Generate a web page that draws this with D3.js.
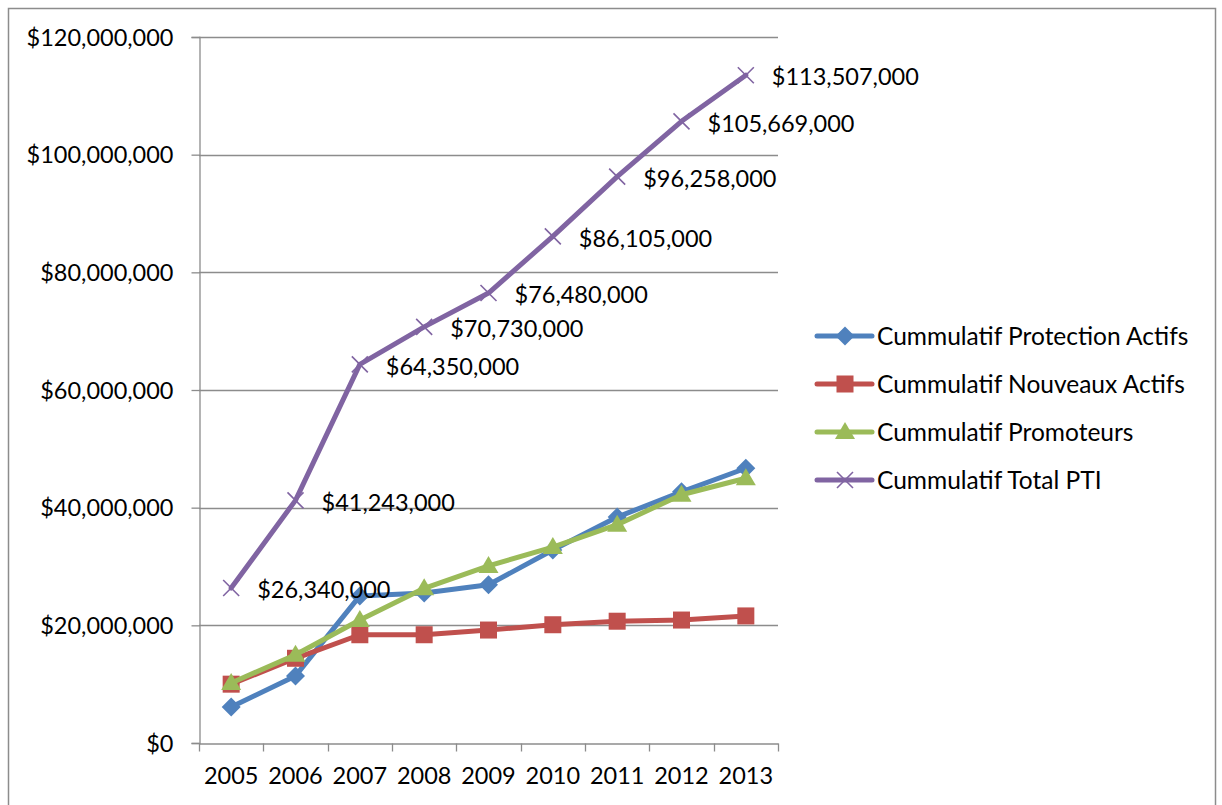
<!DOCTYPE html>
<html>
<head>
<meta charset="utf-8">
<script src="https://cdn.jsdelivr.net/npm/d3@7"></script>
<style>
  html, body { margin: 0; padding: 0; background: #fff; }
  svg { display: block; }
  text { font-family: Lato, "Open Sans", sans-serif; fill: #000; }
</style>
</head>
<body>
<svg id="chart" width="1222" height="805"></svg>
<script>
// Years on the category axis
const years = ["2005", "2006", "2007", "2008", "2009", "2010", "2011", "2012", "2013"];

// Cumulative amounts per series ($)
const protectionActifs = [6100000, 11400000, 25000000, 25500000, 26900000, 32800000, 38400000, 42700000, 46700000];
const nouveauxActifs   = [10000000, 14400000, 18400000, 18400000, 19200000, 20100000, 20700000, 20900000, 21600000];
const promoteurs       = [10200000, 15000000, 20900000, 26300000, 30100000, 33300000, 37100000, 42200000, 45000000];
const totalPTI         = [26340000, 41243000, 64350000, 70730000, 76480000, 86105000, 96258000, 105669000, 113507000];

const seriesNames = ["Cummulatif Protection Actifs", "Cummulatif Nouveaux Actifs", "Cummulatif Promoteurs", "Cummulatif Total PTI"];
const yTicks = [0, 20000000, 40000000, 60000000, 80000000, 100000000, 120000000];

const series = [
  { name: seriesNames[0], values: protectionActifs, color: "#4F81BD", marker: "diamond" },
  { name: seriesNames[1], values: nouveauxActifs,   color: "#C0504D", marker: "square" },
  { name: seriesNames[2], values: promoteurs,       color: "#9BBB59", marker: "triangle" },
  { name: seriesNames[3], values: totalPTI,         color: "#8064A2", marker: "x", labels: true }
];

const FONT = 23.5;
const svg = d3.select("#chart");
const plot = { left: 199, right: 778, top: 37, bottom: 743 };

// Outer chart frame
svg.append("rect")
  .attr("x", 8.5).attr("y", 8.5)
  .attr("width", 1207).attr("height", 820)
  .attr("fill", "none").attr("stroke", "#8c8c8c").attr("stroke-width", 1.5);

const x = d3.scaleBand().domain(years).range([plot.left, plot.right]).padding(0);
const y = d3.scaleLinear().domain([0, 120000000]).range([plot.bottom, plot.top]);

const fmt = v => "$" + d3.format(",")(v);

// Horizontal gridlines
svg.append("g")
  .selectAll("line")
  .data(yTicks.filter(d => d > 0))
  .join("line")
  .attr("x1", plot.left).attr("x2", plot.right)
  .attr("y1", d => Math.round(y(d)) + 0.5).attr("y2", d => Math.round(y(d)) + 0.5)
  .attr("stroke", "#8c8c8c").attr("stroke-width", 1.3);

// Y axis
const yAxis = svg.append("g")
  .attr("transform", `translate(${plot.left + 0.5},0)`)
  .call(d3.axisLeft(y).tickValues(yTicks).tickFormat(fmt).tickSize(8).tickPadding(18));
yAxis.select(".domain").attr("stroke", "#8c8c8c").attr("stroke-width", 1.3);
yAxis.selectAll(".tick line").attr("stroke", "#8c8c8c").attr("stroke-width", 1.3);
yAxis.selectAll(".tick text").attr("font-size", FONT).attr("font-family", "Lato, sans-serif").attr("fill", "#000").attr("dy", "0.34em");

// X axis with ticks at category boundaries
const xAxis = svg.append("g")
  .attr("transform", `translate(0,${plot.bottom + 0.5})`)
  .call(d3.axisBottom(x).tickSize(0).tickPadding(31));
xAxis.select(".domain").attr("stroke", "#8c8c8c").attr("stroke-width", 1.3);
xAxis.selectAll(".tick text").attr("font-size", FONT).attr("font-family", "Lato, sans-serif").attr("fill", "#000").attr("dy", "0.42em");
const bounds = years.map(d => x(d)).concat([x(years[years.length - 1]) + x.bandwidth()]);
xAxis.append("g").selectAll("line")
  .data(bounds)
  .join("line")
  .attr("x1", d => Math.round(d) + 0.5).attr("x2", d => Math.round(d) + 0.5)
  .attr("y1", 0).attr("y2", 8)
  .attr("stroke", "#8c8c8c").attr("stroke-width", 1.3);

const cx = d => x(d) + x.bandwidth() / 2;

function drawMarker(g, type, color) {
  if (type === "diamond") {
    g.append("path").attr("d", "M0,-9.5L9.5,0L0,9.5L-9.5,0Z").attr("fill", color);
  } else if (type === "square") {
    g.append("rect").attr("x", -8.5).attr("y", -8.5).attr("width", 17).attr("height", 17).attr("fill", color);
  } else if (type === "triangle") {
    g.append("path").attr("d", "M0,-10L10,7L-10,7Z").attr("fill", color);
  } else if (type === "x") {
    g.append("path").attr("d", "M-8,-8L8,8M-8,8L8,-8").attr("stroke", color).attr("stroke-width", 1.6).attr("fill", "none");
  }
}

const line = d3.line().x((d, i) => cx(years[i])).y(d => y(d));

series.forEach(s => {
  const g = svg.append("g");
  g.append("path")
    .attr("d", line(s.values))
    .attr("fill", "none").attr("stroke", s.color)
    .attr("stroke-width", 5).attr("stroke-linejoin", "round").attr("stroke-linecap", "round");
  s.values.forEach((v, i) => {
    const m = g.append("g").attr("transform", `translate(${cx(years[i])},${y(v)})`);
    drawMarker(m, s.marker, s.color);
  });
  if (s.labels) {
    g.selectAll("text.lbl")
      .data(s.values)
      .join("text")
      .attr("class", "lbl")
      .attr("x", (d, i) => cx(years[i]) + 26)
      .attr("y", d => y(d) + 2)
      .attr("dy", "0.35em")
      .attr("font-size", FONT)
      .text(d => fmt(d));
  }
});

// Legend
const legend = svg.append("g").attr("transform", "translate(817,336)");
series.forEach((s, i) => {
  const row = legend.append("g").attr("transform", `translate(0,${i * 48})`);
  row.append("line").attr("x1", 0).attr("x2", 55).attr("y1", 0).attr("y2", 0)
    .attr("stroke", s.color).attr("stroke-width", 5).attr("stroke-linecap", "round");
  const m = row.append("g").attr("transform", "translate(28,0)");
  drawMarker(m, s.marker, s.color);
  row.append("text").attr("x", 60).attr("y", 0).attr("dy", "0.35em").attr("font-size", 24.5).text(s.name);
});
</script>
</body>
</html>
